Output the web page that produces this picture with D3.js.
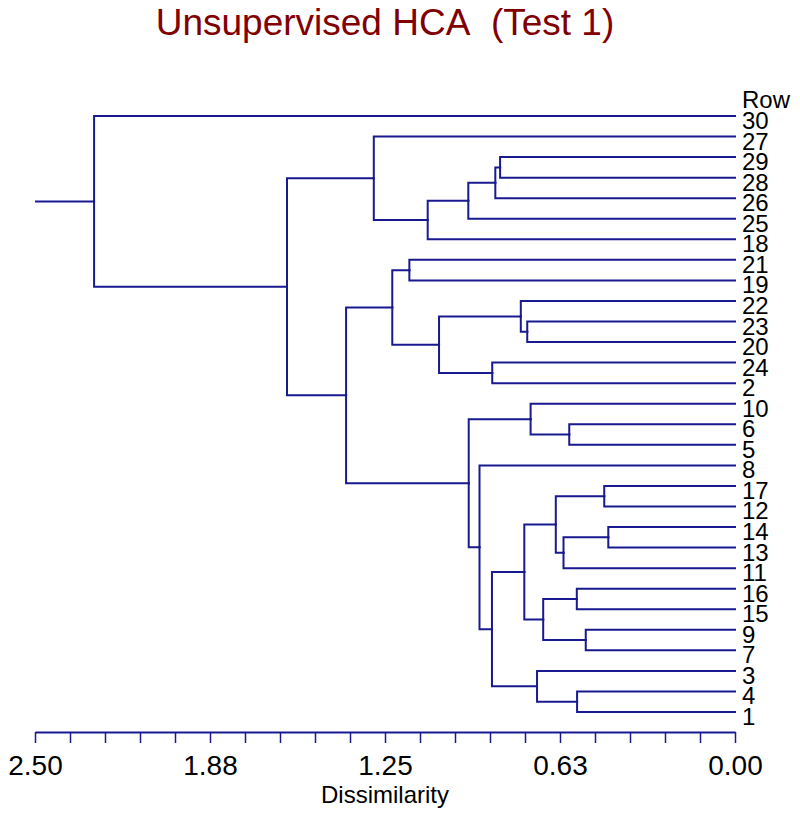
<!DOCTYPE html>
<html>
<head>
<meta charset="utf-8">
<script src="https://cdn.jsdelivr.net/npm/d3@7"></script>
<style>
  html, body { margin: 0; padding: 0; background: #fff; }
  text { font-family: Arial, "Liberation Sans", sans-serif; }
</style>
</head>
<body>
<svg id="chart" width="800" height="817"></svg>
<script>
// ---- data ----
const title = "Unsupervised HCA\u00A0\u00A0(Test 1)";
const axisTitle = "Dissimilarity";
const leafHeader = "Row";
const leafOrder = ["30","27","29","28","26","25","18","21","19","22","23","20","24","2",
                   "10","6","5","8","17","12","14","13","11","16","15","9","7","3","4","1"];
// merges: [id, childA, childB, dissimilarity]
const merges = [
  ["m1","29","28",0.839],
  ["m2","m1","26",0.856],
  ["m3","m2","25",0.9525],
  ["m4","m3","18",1.0975],
  ["m5","27","m4",1.290],
  ["m6","21","19",1.163],
  ["m7","23","20",0.742],
  ["m8","22","m7",0.765],
  ["m9","24","2",0.867],
  ["m10","m8","m9",1.057],
  ["m11","m6","m10",1.224],
  ["m12","6","5",0.592],
  ["m13","10","m12",0.730],
  ["m14","17","12",0.467],
  ["m15","14","13",0.4525],
  ["m16","m15","11",0.6125],
  ["m17","m14","m16",0.640],
  ["m18","16","15",0.565],
  ["m19","9","7",0.533],
  ["m20","m18","m19",0.685],
  ["m21","m17","m20",0.7525],
  ["m22","4","1",0.564],
  ["m23","3","m22",0.707],
  ["m24","m21","m23",0.868],
  ["m25","8","m24",0.9125],
  ["m26","m13","m25",0.951],
  ["m27","m11","m26",1.389],
  ["m28","m5","m27",1.600],
  ["m29","30","m28",2.289]
];
const axisMax = 2.5;
const minorTicks = [2.5,2.375,2.25,2.125,2.0,1.875,1.75,1.625,1.5,1.375,1.25,1.125,1.0,0.875,0.75,0.625,0.5,0.375,0.25,0.125,0.0];
const majorTicks = [2.5,1.875,1.25,0.625,0.0];
const majorLabels = ["2.50","1.88","1.25","0.63","0.00"];

// ---- build tree ----
const nodes = {};
leafOrder.forEach(l => nodes[l] = {name: l, h: 0});
merges.forEach(([id,a,b,h]) => nodes[id] = {name: id, h: h, children: [nodes[a], nodes[b]]});
const root = d3.hierarchy(nodes["m29"], d => d.children);

const lineColor = "#191990";
const svg = d3.select("#chart");
svg.append("rect").attr("width",800).attr("height",817).attr("fill","#fff");

const x = d3.scaleLinear().domain([axisMax, 0]).range([35, 735]);
const y = d3.scalePoint().domain(leafOrder).range([116, 712]);

// assign y positions (post-order)
root.eachAfter(n => {
  if (!n.children) n.yy = y(n.data.name);
  else n.yy = d3.mean(n.children, c => c.yy);
  n.xx = x(n.data.h);
});

const g = svg.append("g");
// root stem
g.append("path")
  .attr("d", `M${x(axisMax)},${root.yy}H${root.xx}`)
  .attr("fill","none").attr("stroke",lineColor).attr("stroke-width",2);

g.selectAll("path.link")
  .data(root.links())
  .join("path")
  .attr("class","link")
  .attr("d", l => `M${l.source.xx},${l.source.yy}V${l.target.yy}H${l.target.xx}`)
  .attr("fill","none")
  .attr("stroke",lineColor)
  .attr("stroke-width",2)
  .attr("stroke-linecap","square");

// leaf labels
const lab = svg.append("g");
lab.selectAll("text.leaf")
  .data(root.leaves())
  .join("text")
  .attr("class","leaf")
  .attr("x", 742)
  .attr("y", d => d.yy + 13)
  .attr("font-size", 24)
  .attr("fill", "#000")
  .text(d => d.data.name);
lab.append("text")
  .attr("x", 742)
  .attr("y", y(leafOrder[0]) - y.step() + 13)
  .attr("font-size", 24)
  .attr("fill", "#000")
  .text(leafHeader);

// axis
const axis = d3.axisBottom(x)
  .tickValues(minorTicks)
  .tickSize(11)
  .tickSizeOuter(0)
  .tickPadding(12)
  .tickFormat(v => {
    const i = majorTicks.findIndex(m => Math.abs(m - v) < 1e-9);
    return i >= 0 ? majorLabels[i] : "";
  });
const ax = svg.append("g").attr("transform","translate(0,732)").call(axis);
ax.select(".domain").attr("stroke", lineColor).attr("stroke-width", 2);
ax.selectAll(".tick line").attr("stroke", lineColor).attr("stroke-width", 1.5);
ax.selectAll(".tick text")
  .attr("font-size", 28)
  .attr("font-family", "Arial, 'Liberation Sans', sans-serif")
  .attr("fill", "#000");

svg.append("text")
  .attr("x", 385).attr("y", 803)
  .attr("text-anchor","middle")
  .attr("font-size", 24)
  .attr("fill","#000")
  .text(axisTitle);

svg.append("text")
  .attr("x", 385).attr("y", 35)
  .attr("text-anchor","middle")
  .attr("font-size", 37)
  .attr("fill","#800000")
  .text(title);
</script>
</body>
</html>
